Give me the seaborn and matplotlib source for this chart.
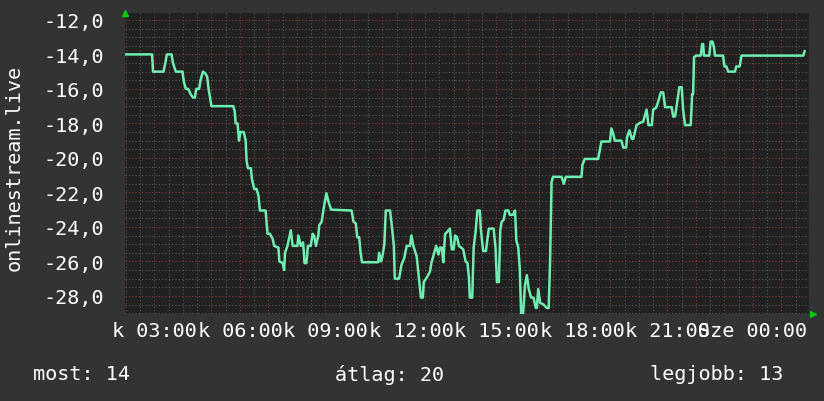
import numpy as np
import pandas as pd
import matplotlib
matplotlib.use("Agg")
import matplotlib.pyplot as plt
import seaborn as sns
from matplotlib.ticker import MultipleLocator, FuncFormatter

# minutes since window start (k 01:58) and the value read at that moment
minutes = [0, 57, 59, 81, 85, 88, 98, 101, 107, 121, 124, 128, 133, 138, 143, 147,
           150, 156, 159, 164, 169, 173, 176, 179, 182, 228, 231, 233, 237, 240,
           243, 250, 254, 256, 259, 265, 267, 272, 277, 281, 284, 296, 300, 305,
           311, 314, 323, 325, 332, 335, 337, 342, 349, 353, 363, 365, 370, 375,
           378, 382, 385, 391, 395, 398, 402, 407, 409, 414, 419, 424, 429, 434,
           477, 481, 486, 489, 493, 496, 499, 533, 535, 539, 542, 546, 549, 558,
           562, 566, 568, 577, 582, 588, 593, 600, 603, 607, 614, 621, 623, 627,
           629, 636, 642, 645, 651, 655, 660, 663, 667, 670, 674, 678, 684, 688,
           692, 695, 699, 703, 712, 717, 721, 724, 726, 731, 734, 738, 742, 747,
           749, 754, 760, 763, 766, 776, 780, 783, 787, 790, 793, 797, 801, 807,
           810, 817, 821, 824, 828, 831, 834, 838, 842, 846, 850, 855, 860, 865,
           867, 870, 874, 881, 888, 892, 895, 898, 901, 919, 924, 928, 961, 963,
           968, 996, 1000, 1003, 1021, 1024, 1028, 1031, 1045, 1049, 1055, 1057,
           1062, 1067, 1070, 1077, 1084, 1091, 1095, 1098, 1102, 1109, 1112, 1118,
           1123, 1128, 1133, 1137, 1151, 1154, 1158, 1161, 1167, 1172, 1175, 1179,
           1191, 1194, 1196, 1198, 1202, 1212, 1215, 1217, 1219, 1230, 1233, 1237,
           1240, 1242, 1259, 1262, 1266, 1270, 1284, 1287, 1294, 1298, 1428, 1431]
values = [-14, -14, -15, -15, -14.5, -14, -14, -14.5, -15, -15, -15.6, -16, -16,
          -16.3, -16.5, -16.5, -16, -16, -15.5, -15, -15.1, -15.3, -16, -16.5, -17,
          -17, -17.3, -18, -18, -19, -18.5, -18.5, -19, -20.2, -20.6, -20.6, -21.2,
          -21.8, -21.8, -22.2, -23.05, -23.05, -24.4, -24.4, -24.7, -25.1, -25.2,
          -26, -26.1, -26.5, -25.5, -25.1, -24.2, -25.1, -25.1, -24.5, -25.1, -24.9,
          -26.1, -26.1, -25.1, -25.1, -24.4, -24.5, -25.1, -24.5, -23.9, -23.7,
          -22.8, -22.05, -22.6, -23, -23.05, -23.7, -23.8, -24.6, -24.6, -25.5,
          -26.05, -26.05, -25.5, -26, -25.7, -25, -23.05, -23.05, -24, -25.1, -27,
          -27, -26.2, -25.8, -25.1, -25.1, -24.5, -25.1, -25.7, -27.6, -28.1, -28.1,
          -27.2, -26.9, -26.6, -26.1, -25.5, -25.1, -25.6, -25.2, -25.2, -26.05,
          -24.4, -24.3, -24.1, -25.3, -25.3, -24.5, -24.6, -25.1, -25.3, -26,
          -26.1, -26.9, -28.1, -28.1, -25.2, -24.3, -23.05, -23.05, -24.1, -25.4,
          -25.4, -24.7, -24.1, -24.1, -25.2, -27.2, -27.2, -24.2, -23.7, -23.6,
          -23.05, -23.05, -23.3, -23.3, -23.05, -24.8, -25.2, -26.4, -29.04, -29.04,
          -27.4, -26.8, -27.6, -28.1, -28.1, -28.7, -28.7, -27.6, -28.4, -28.5,
          -28.7, -28.7, -25.9, -21.4, -21.1, -21.1, -21.5, -21.1, -21.1, -20.4,
          -20.06, -20.06, -19.5, -19.05, -19.05, -18.3, -18.6, -19, -19, -19.4,
          -19.4, -18.8, -18.4, -18.9, -18.9, -18.1, -17.97, -17.9, -17.5, -17.2,
          -18.1, -18.1, -17.2, -17.1, -16.7, -16.2, -16.2, -17.06, -17.06, -17.6,
          -17.6, -17.06, -15.9, -15.9, -17.2, -18.1, -18.1, -16.3, -16.3, -14.16,
          -14.07, -14.07, -13.4, -13.4, -14.07, -14.07, -13.26, -13.26, -13.6,
          -14.07, -14.07, -14.7, -14.7, -15, -15, -14.7, -14.7, -14.07, -14.07,
          -13.8]

start_hour = 1.965          # k 01:58
day_names = {0: "k", 1: "Sze"}
ylabel = "onlinestream.live"
legend_items = [("most", 14), ("átlag", 20), ("legjobb", 13)]

df = pd.DataFrame({"hour": start_hour + np.array(minutes) / 60.0, "value": values})

bg_outer = "#333333"
bg_plot = "#212121"
line_color = "#6cefb0"

sns.set_style("dark", {"axes.facecolor": bg_plot, "figure.facecolor": bg_outer})
plt.rcParams["font.family"] = ["DejaVu Sans Mono", "DejaVu Sans"]

fig = plt.figure(figsize=(8.24, 4.02), dpi=100)
ax = fig.add_axes([125 / 824, 1 - 315 / 402, 684 / 824, 301 / 402])

sns.lineplot(data=df, x="hour", y="value", ax=ax, color=line_color,
             linewidth=1.8, estimator=None, sort=False)

ax.set_xlim(start_hour, start_hour + 24)
ax.set_ylim(-29.05, -11.6)

ax.xaxis.set_major_locator(MultipleLocator(1))
ax.xaxis.set_minor_locator(MultipleLocator(0.5))
ax.yaxis.set_major_locator(MultipleLocator(2))
ax.yaxis.set_minor_locator(MultipleLocator(0.5))


def hour_label(h, pos):
    h = int(round(h))
    if h % 3:
        return ""
    return f"{day_names[h // 24]} {h % 24:02d}:00"


ax.xaxis.set_major_formatter(FuncFormatter(hour_label))
ax.yaxis.set_major_formatter(FuncFormatter(lambda v, p: f"{v:.1f}".replace(".", ",")))

ax.grid(True, which="minor", color="#5a5a5a", linestyle=(0, (1, 2)), linewidth=0.8)
ax.grid(True, which="major", color="#8a3a3a", linestyle=(0, (1, 2)), linewidth=0.8)
ax.set_axisbelow(True)

ax.tick_params(axis="both", which="major", colors="#a03c3c", length=3, width=1,
               labelcolor="white", labelsize=14.5)
ax.tick_params(axis="both", which="minor", colors="#666666", length=2, width=1)
ax.tick_params(axis="x", which="major", pad=2)
ax.tick_params(axis="y", which="major", pad=12)

for s in ax.spines.values():
    s.set_visible(False)

ax.set_xlabel("")
ax.set_ylabel(ylabel, color="white", fontsize=14.5)
ax.yaxis.set_label_coords(-101 / 684, 0.49)

# rrdtool style axis arrows
ax.plot([0], [1.0], marker="^", color="#00cc00", markersize=4, clip_on=False,
        transform=ax.transAxes)
ax.plot([1.006], [0], marker=">", color="#00cc00", markersize=4, clip_on=False,
        transform=ax.transAxes)

legend_x = [33, 335, 650]
for (name, val), x in zip(legend_items, legend_x):
    fig.text(x / 824, 1 - 375 / 402, f"{name}: {val}", color="white",
             fontsize=14.5, va="center", ha="left")

fig.savefig("out.png", dpi=100, facecolor=bg_outer)
